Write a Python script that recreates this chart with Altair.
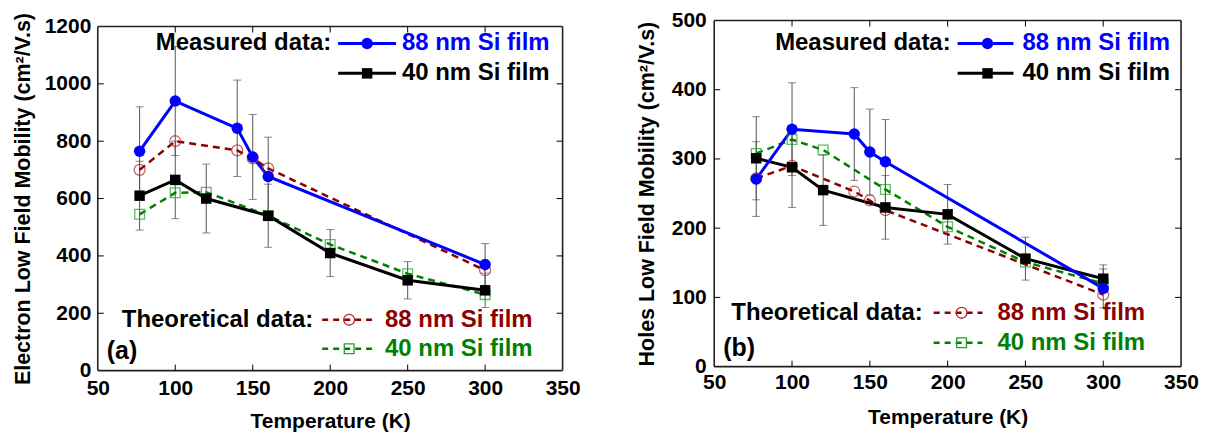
import altair as alt
import pandas as pd

# ---------------- data ----------------
X_TICKS = [50, 100, 150, 200, 250, 300, 350]
T_88 = [77, 100, 140, 150, 160, 300]
T_40 = [77, 100, 120, 160, 200, 250, 300]

# (a) electrons
e_meas88 = [765, 940, 845, 745, 677, 370]
e_meas88_err = [155, 190, 168, 148, 137, 73]
e_meas40 = [610, 665, 600, 540, 410, 315, 280]
e_meas40_err = [120, 135, 120, 110, 82, 65, 60]
e_theo88 = [700, 800, 768, 740, 705, 350]
e_theo40 = [545, 620, 622, 540, 440, 338, 265]
e_yticks = [0, 200, 400, 600, 800, 1000, 1200]

# (b) holes
h_meas88 = [271, 343, 336, 310, 296, 113]
h_meas88_err = [54, 67, 67, 62, 61, 28]
h_meas40 = [301, 288, 255, 230, 220, 156, 127]
h_meas40_err = [60, 58, 51, 46, 43, 31, 20]
h_theo88 = [272, 290, 253, 240, 226, 104]
h_theo40 = [308, 328, 313, 256, 202, 151, 120]
h_yticks = [0, 100, 200, 300, 400, 500]

LABELS = ["Measured data:", "Theoretical data:", "88 nm Si film", "40 nm Si film"]

BLUE = "#0000FF"
BLACK = "#000000"
RED = "#8B0000"
GREEN = "#008000"
ERR = "#555555"
FONT = "Liberation Sans"
GH = 351  # group height shared by both panels


def panel(W, top, bot, yticks, ytitle, m88, m88e, m40, m40e, t88, t40, tag, leg,
          title_pad, lab_pad, xlab_pad, xtitle_pad):
    xs = alt.Scale(domain=[X_TICKS[0], X_TICKS[-1]], nice=False, zero=False)
    ys = alt.Scale(domain=[yticks[0], yticks[-1]], range=[bot, top], nice=False)
    xa = alt.Axis(values=X_TICKS, ticks=False, domain=False, grid=False, format="d",
                  labelPadding=xlab_pad, labelFontSize=21, labelFontWeight="bold",
                  title="Temperature (K)", titleFontSize=21, titleFontWeight="bold",
                  titlePadding=xtitle_pad, labelFlush=False, labelColor="black", titleColor="black")
    ya = alt.Axis(values=yticks, ticks=False, domain=False, grid=False, format="d",
                  labelPadding=lab_pad, labelFontSize=21, labelFontWeight="bold",
                  title=ytitle, titleFontSize=21.5, titleFontWeight="bold",
                  titlePadding=title_pad, labelFlush=False, labelColor="black", titleColor="black")
    X = alt.X("T:Q", scale=xs, axis=xa)
    Y = alt.Y("V:Q", scale=ys, axis=ya)

    d88 = pd.DataFrame({"T": T_88, "V": m88, "E": m88e})
    d40 = pd.DataFrame({"T": T_40, "V": m40, "E": m40e})
    d88["lo"] = d88["V"] - d88["E"]
    d88["hi"] = d88["V"] + d88["E"]
    d40["lo"] = d40["V"] - d40["E"]
    d40["hi"] = d40["V"] + d40["E"]
    derr = pd.concat([d88, d40], ignore_index=True)
    dcaps = pd.concat([
        pd.DataFrame({"T": derr["T"], "V": derr["lo"]}),
        pd.DataFrame({"T": derr["T"], "V": derr["hi"]}),
    ], ignore_index=True)
    dt88 = pd.DataFrame({"T": T_88, "V": t88})
    dt40 = pd.DataFrame({"T": T_40, "V": t40})

    layers = []
    # error bars
    layers.append(alt.Chart(derr).mark_rule(color=ERR, strokeWidth=1).encode(
        x=X, y=alt.Y("lo:Q", scale=ys, axis=ya), y2="hi:Q"))
    layers.append(alt.Chart(dcaps).mark_tick(orient="horizontal", size=8, thickness=1, color=ERR).encode(
        x=X, y=Y))
    # theoretical
    layers.append(alt.Chart(dt88).mark_line(color=RED, strokeWidth=2.5, strokeDash=[7, 5]).encode(x=X, y=Y))
    layers.append(alt.Chart(dt40).mark_line(color=GREEN, strokeWidth=2.5, strokeDash=[7, 5]).encode(x=X, y=Y))
    # measured
    layers.append(alt.Chart(d40).mark_line(color=BLACK, strokeWidth=3).encode(x=X, y=Y))
    layers.append(alt.Chart(d88).mark_line(color=BLUE, strokeWidth=3).encode(x=X, y=Y))
    # markers
    layers.append(alt.Chart(dt88).mark_point(shape="circle", filled=False, size=120, strokeWidth=1.3,
                                             color="#B22222").encode(x=X, y=Y))
    layers.append(alt.Chart(dt40).mark_point(shape="square", filled=False, size=95, strokeWidth=1.3,
                                             color="#22A022").encode(x=X, y=Y))
    layers.append(alt.Chart(d40).mark_point(shape="square", filled=True, size=110, opacity=1,
                                            color=BLACK).encode(x=X, y=Y))
    layers.append(alt.Chart(d88).mark_point(shape="circle", filled=True, size=130, opacity=1,
                                            color=BLUE).encode(x=X, y=Y))

    one = pd.DataFrame({"k": [0]})

    # frame
    def frame_rule(x1, x2, y1, y2):
        return alt.Chart(one).mark_rule(color="#222222", strokeWidth=1.6).encode(
            x=alt.value(x1), x2=alt.value(x2), y=alt.value(y1), y2=alt.value(y2))

    layers += [frame_rule(0, W, top, top), frame_rule(0, W, bot, bot),
               frame_rule(0, 0, top, bot), frame_rule(W, W, top, bot)]

    # inward ticks on all four sides
    dxt = pd.DataFrame({"T": X_TICKS[1:-1]})
    dyt = pd.DataFrame({"V": yticks[1:-1]})
    layers.append(alt.Chart(dxt).mark_rule(color="black", strokeWidth=1).encode(
        x=X, y=alt.value(bot), y2=alt.value(bot - 6)))
    layers.append(alt.Chart(dxt).mark_rule(color="black", strokeWidth=1).encode(
        x=X, y=alt.value(top), y2=alt.value(top + 6)))
    layers.append(alt.Chart(dyt).mark_rule(color="black", strokeWidth=1).encode(
        y=Y, x=alt.value(0), x2=alt.value(6)))
    layers.append(alt.Chart(dyt).mark_rule(color="black", strokeWidth=1).encode(
        y=Y, x=alt.value(W - 6), x2=alt.value(W)))

    # in-plot legend
    def txt(s, x, y, color, align="left", size=24):
        return alt.Chart(one).mark_text(text=s, align=align, baseline="middle", fontSize=size,
                                        fontWeight="bold", color=color, font=FONT).encode(
            x=alt.value(x), y=alt.value(y))

    def seg(x1, x2, y, color, dash=None, width=3):
        kw = dict(color=color, strokeWidth=width)
        if dash:
            kw["strokeDash"] = dash
        return alt.Chart(one).mark_rule(**kw).encode(x=alt.value(x1), x2=alt.value(x2), y=alt.value(y))

    def mk(x, y, shape, filled, color, size):
        return alt.Chart(one).mark_point(shape=shape, filled=filled, size=size, opacity=1,
                                         strokeWidth=1.3, color=color).encode(x=alt.value(x), y=alt.value(y))

    L = leg
    layers += [
        txt(LABELS[0], L["mx"], L["my1"], BLACK, align="right"),
        seg(L["lx1"], L["lx2"], L["my1"], BLUE),
        mk(L["lmk"], L["my1"], "circle", True, BLUE, 130),
        txt(LABELS[2], L["tx"], L["my1"], BLUE),
        seg(L["lx1"], L["lx2"], L["my2"], BLACK),
        mk(L["lmk"], L["my2"], "square", True, BLACK, 110),
        txt(LABELS[3], L["tx"], L["my2"], BLACK),
        txt(LABELS[1], L["thx"], L["ty1"], BLACK, align="right"),
        seg(L["dx1"], L["dx2"], L["ty1"], RED, dash=[6, 5], width=2.5),
        mk(L["dmk"], L["ty1"], "circle", False, "#B22222", 120),
        txt(LABELS[2], L["dtx"], L["ty1"], RED),
        seg(L["dx1"], L["dx2"], L["ty2"], GREEN, dash=[6, 5], width=2.5),
        mk(L["dmk"], L["ty2"], "square", False, "#22A022", 95),
        txt(LABELS[3], L["dtx"], L["ty2"], GREEN),
        txt(tag, L["tagx"], L["tagy"], BLACK, size=25),
    ]
    return alt.layer(*layers).properties(width=W, height=GH)


leg_a = dict(mx=234, my1=23, my2=53, lx1=241, lx2=299, lmk=270, tx=305,
             thx=216, ty1=300, ty2=329, dx1=225, dx2=275, dmk=252, dtx=288,
             tagx=9, tagy=331)
leg_b = dict(mx=237, my1=23, my2=53, lx1=244, lx2=300, lmk=274, tx=309,
             thx=209, ty1=293, ty2=323, dx1=220, dx2=269, dmk=248, dtx=284,
             tagx=9, tagy=328)

left = panel(466, 6, 351, e_yticks, "Electron Low Field Mobility (cm²/V.s)",
             e_meas88, e_meas88_err, e_meas40, e_meas40_err, e_theo88, e_theo40, "(a)", leg_a,
             10, 7, 7, 12)
right = panel(468, 0, 347, h_yticks, "Holes Low Field Mobility (cm²/V.s)",
              h_meas88, h_meas88_err, h_meas40, h_meas40_err, h_theo88, h_theo40, "(b)", leg_b,
              13, 8, 1, 14)

chart = alt.hconcat(left, right, spacing=55).properties(
    padding={"left": 4, "top": 1, "right": 0, "bottom": 0}
).configure(font=FONT, background="white").configure_view(strokeWidth=0)

chart.save("out.html", embed_options={"renderer": "svg", "actions": False})
